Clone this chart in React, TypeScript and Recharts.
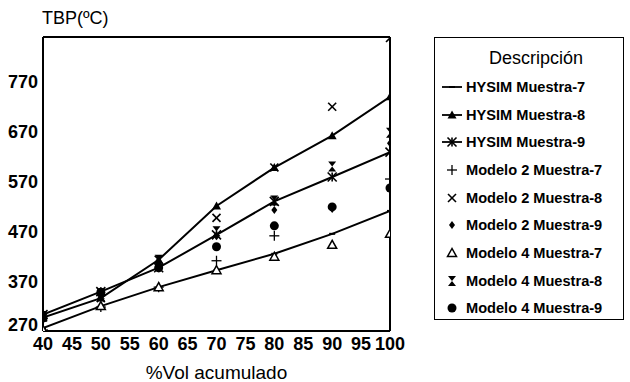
import React from "react";
import {
  ComposedChart,
  Line,
  Scatter,
  XAxis,
  YAxis,
  ReferenceLine,
} from "recharts";

// %Vol acumulado
const VOL = [40, 50, 60, 70, 80, 90, 100];

// TBP (ºC)
const HYSIM_7 = [276, 320, 358, 392, 425, 465, 511];
const HYSIM_8 = [297, 336, 413, 521, 598, 662, 740];
const HYSIM_9 = [303, 349, 397, 463, 530, 579, 629];
const MOD2_7 = [272, 318, 358, 411, 461, null, 575];
const MOD2_8 = [297, 336, 413, 497, 598, 720, 858];
const MOD2_9 = [303, 349, 400, 460, 513, 515, 647];
const MOD4_7 = [272, 320, 358, 392, 419, 443, 465];
const MOD4_8 = [300, 345, 413, 470, 532, 600, 668];
const MOD4_9 = [296, 348, 397, 439, 481, 519, 557];

const Y_TICKS = [270, 370, 470, 570, 670, 770];
const X_TICKS = [40, 45, 50, 55, 60, 65, 70, 75, 80, 85, 90, 95, 100];

const FONT = "'Liberation Sans', Arial, Helvetica, sans-serif";

type MarkerKind =
  | "dash"
  | "triFill"
  | "star"
  | "plus"
  | "cross"
  | "diamond"
  | "triOpen"
  | "hourglass"
  | "circle";

function Marker({ kind, cx, cy }: { kind: MarkerKind; cx: number; cy: number }) {
  if (cx == null || cy == null || isNaN(cx) || isNaN(cy)) return <g />;
  const s = 4.5;
  switch (kind) {
    case "dash":
      return <line x1={cx - 3} y1={cy} x2={cx + 3} y2={cy} stroke="#000" strokeWidth={2} />;
    case "triFill":
      return (
        <polygon
          points={`${cx},${cy - s} ${cx - s},${cy + s - 1} ${cx + s},${cy + s - 1}`}
          fill="#000"
        />
      );
    case "star":
      return (
        <g stroke="#000" strokeWidth={1.6}>
          <line x1={cx - s} y1={cy - s} x2={cx + s} y2={cy + s} />
          <line x1={cx - s} y1={cy + s} x2={cx + s} y2={cy - s} />
          <line x1={cx} y1={cy - s} x2={cx} y2={cy + s} />
        </g>
      );
    case "plus":
      return (
        <g stroke="#000" strokeWidth={1.3}>
          <line x1={cx - 5} y1={cy} x2={cx + 5} y2={cy} />
          <line x1={cx} y1={cy - 5} x2={cx} y2={cy + 5} />
        </g>
      );
    case "cross":
      return (
        <g stroke="#000" strokeWidth={1.6}>
          <line x1={cx - 4} y1={cy - 4} x2={cx + 4} y2={cy + 4} />
          <line x1={cx - 4} y1={cy + 4} x2={cx + 4} y2={cy - 4} />
        </g>
      );
    case "diamond":
      return (
        <polygon
          points={`${cx},${cy - 4} ${cx + 3},${cy} ${cx},${cy + 4} ${cx - 3},${cy}`}
          fill="#000"
        />
      );
    case "triOpen":
      return (
        <polygon
          points={`${cx},${cy - s} ${cx - s},${cy + s - 1} ${cx + s},${cy + s - 1}`}
          fill="#fff"
          stroke="#000"
          strokeWidth={1.5}
        />
      );
    case "hourglass":
      return (
        <polygon
          points={`${cx - 4},${cy - 5} ${cx + 4},${cy - 5} ${cx},${cy} ${cx + 4},${cy + 5} ${cx - 4},${cy + 5} ${cx},${cy}`}
          fill="#000"
        />
      );
    case "circle":
      return <circle cx={cx} cy={cy} r={4.5} fill="#000" />;
  }
  return <g />;
}

// y tick: the bottom label sits a little higher so it clears the x ticks
function YTick({ x, y, payload }: any) {
  const shift = payload.value === Y_TICKS[0] ? -6 : 0;
  return (
    <text
      x={x}
      y={y + shift}
      dy="0.355em"
      textAnchor="end"
      fontSize={18}
      fontWeight="bold"
      fill="#000"
      fontFamily={FONT}
    >
      {payload.value}
    </text>
  );
}

const pts = (vals: (number | null)[]) =>
  VOL.map((x, i) => ({ x, y: vals[i] })).filter((p) => p.y != null);

const LINES: { name: string; vals: number[]; kind: MarkerKind }[] = [
  { name: "HYSIM Muestra-7", vals: HYSIM_7, kind: "dash" },
  { name: "HYSIM Muestra-8", vals: HYSIM_8, kind: "triFill" },
  { name: "HYSIM Muestra-9", vals: HYSIM_9, kind: "star" },
];

const POINTS: { name: string; vals: (number | null)[]; kind: MarkerKind }[] = [
  { name: "Modelo 2 Muestra-7", vals: MOD2_7, kind: "plus" },
  { name: "Modelo 2 Muestra-8", vals: MOD2_8, kind: "cross" },
  { name: "Modelo 2 Muestra-9", vals: MOD2_9, kind: "diamond" },
  { name: "Modelo 4 Muestra-7", vals: MOD4_7, kind: "triOpen" },
  { name: "Modelo 4 Muestra-8", vals: MOD4_8, kind: "hourglass" },
  { name: "Modelo 4 Muestra-9", vals: MOD4_9, kind: "circle" },
];

function LegendBox() {
  const rows = [
    ...LINES.map((l) => ({ ...l, line: true })),
    ...POINTS.map((p) => ({ ...p, line: false })),
  ];
  return (
    <div
      style={{
        position: "absolute",
        left: 434,
        top: 37,
        width: 188,
        height: 281,
        border: "1.5px solid #000",
        fontFamily: FONT,
        color: "#000",
      }}
    >
      <div style={{ textAlign: "center", fontSize: 18, marginTop: 10, marginLeft: 14 }}>
        Descripción
      </div>
      <div style={{ marginTop: 4 }}>
        {rows.map((r) => (
          <div
            key={r.name}
            style={{ display: "flex", alignItems: "center", height: 27.7, fontSize: 14.6, fontWeight: "bold" }}
          >
            <svg width={26} height={16} style={{ marginLeft: 5 }}>
              {r.line && <line x1={2} y1={8} x2={22} y2={8} stroke="#000" strokeWidth={1.8} />}
              <Marker kind={r.kind} cx={12} cy={8} />
            </svg>
            <span>{r.name}</span>
          </div>
        ))}
      </div>
    </div>
  );
}

export default function App() {
  return (
    <div style={{ position: "absolute", left: 0, top: 0, width: 630, height: 382, background: "#fff" }}>
      <ComposedChart
        width={630}
        height={382}
        margin={{ top: 37, right: 240, bottom: 0, left: 0 }}
        style={{ fontFamily: FONT }}
      >
        <XAxis
          type="number"
          dataKey="x"
          domain={[40, 100]}
          ticks={X_TICKS}
          allowDataOverflow
          height={51}
          tickSize={0}
          tickMargin={6}
          tickLine={false}
          axisLine={{ stroke: "#000", strokeWidth: 2 }}
          tick={{ fontSize: 18, fontWeight: "bold", fill: "#000" }}
          label={{
            value: "%Vol acumulado",
            position: "insideBottom",
            offset: 3,
            fontSize: 19,
            fill: "#000",
          }}
        />
        <YAxis
          type="number"
          dataKey="y"
          domain={[270, 860]}
          ticks={Y_TICKS}
          allowDataOverflow
          width={43}
          tickSize={0}
          tickMargin={5}
          tickLine={false}
          axisLine={{ stroke: "#000", strokeWidth: 2 }}
          tick={<YTick />}
          label={{
            value: "TBP(ºC)",
            content: () => (
              <text x={42} y={24} fontSize={18} fill="#000" fontFamily={FONT}>
                TBP(ºC)
              </text>
            ),
          }}
        />
        <ReferenceLine y={860} stroke="#000" strokeWidth={2} ifOverflow="visible" />
        <ReferenceLine x={100} stroke="#000" strokeWidth={2} ifOverflow="visible" />
        {LINES.map((l) => (
          <Line
            key={l.name}
            name={l.name}
            data={pts(l.vals)}
            dataKey="y"
            stroke="#000"
            strokeWidth={2}
            type="linear"
            isAnimationActive={false}
            dot={(p: any) => <Marker key={`${l.name}-${p.index}`} kind={l.kind} cx={p.cx} cy={p.cy} />}
            activeDot={false}
          />
        ))}
        {POINTS.map((s) => (
          <Scatter
            key={s.name}
            name={s.name}
            data={pts(s.vals)}
            dataKey="y"
            isAnimationActive={false}
            shape={(p: any) => <Marker kind={s.kind} cx={p.cx} cy={p.cy} />}
          />
        ))}
      </ComposedChart>
      <LegendBox />
    </div>
  );
}
